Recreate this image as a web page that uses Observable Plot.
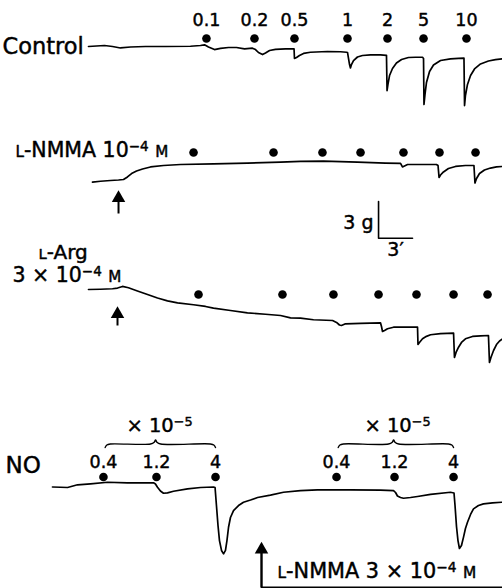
<!DOCTYPE html>
<html><head><meta charset="utf-8">
<script src="https://cdn.jsdelivr.net/npm/d3@7"></script>
<script src="https://cdn.jsdelivr.net/npm/@observablehq/plot@0.6"></script>
<style>body{margin:0;background:#fff}</style>
</head><body><div id="chart"></div>
<script>
// ---------- DATA (time in min, tension change in g) ----------
const controlTrace = [[0,0],[0.71,0.04],[1.41,0.08],[2.12,0],[2.82,-0.12],[3.71,-0.04],[5.03,0],[6.8,0],[9.0,0.02],[9.88,0.08],[10.24,0.14],[10.59,-0.04],[11.12,-0.25],[11.65,-0.16],[12.36,-0.08],[13.06,-0.08],[13.77,-0.19],[14.47,-0.14],[14.74,-0.25],[15.0,-0.49],[15.36,-0.66],[15.62,-0.53],[15.98,-0.33],[16.5,-0.23],[17.39,-0.2],[18.14,-0.19],[18.18,-0.98],[18.36,-0.9],[18.62,-0.74],[18.98,-0.57],[19.59,-0.47],[21.09,-0.41],[22.24,-0.43],[22.77,-0.47],[22.86,-0.49],[23.04,-1.48],[23.12,-1.76],[23.21,-1.48],[23.39,-1.15],[23.74,-0.86],[24.18,-0.74],[24.89,-0.68],[25.77,-0.68],[26.3,-0.72],[26.35,-3.61],[26.43,-3.11],[26.57,-2.38],[26.83,-1.8],[27.18,-1.35],[27.63,-1.07],[28.24,-0.9],[28.86,-0.88],[29.48,-0.88],[29.57,-0.98],[29.61,-4.75],[29.7,-3.93],[29.83,-2.95],[30.1,-2.05],[30.45,-1.52],[31.07,-1.15],[31.95,-1.01],[32.66,-0.97],[33.14,-0.96],[33.19,-4.84],[33.27,-4.02],[33.45,-3.11],[33.72,-2.38],[34.07,-1.84],[34.6,-1.43],[35.3,-1.19],[35.92,-1.07],[36.54,-1.01]];
const nmmaTrace = [[0.35,0],[1.06,0.08],[1.94,0.14],[2.65,0.18],[3.09,0.22],[3.44,0.43],[3.8,0.71],[4.24,0.92],[4.77,1.08],[5.47,1.25],[6.62,1.37],[8.12,1.45],[11.03,1.51],[14.03,1.56],[16.95,1.64],[18.71,1.7],[20.74,1.72],[23.74,1.64],[26.21,1.57],[27.54,1.55],[27.71,1.25],[27.89,1.33],[28.16,1.45],[29.3,1.45],[30.71,1.45],[30.85,1.37],[30.94,0.39],[31.07,0.59],[31.33,0.84],[31.77,1.12],[32.39,1.29],[33.27,1.37],[34.02,1.37],[34.11,-0.07],[34.25,0.3],[34.51,0.71],[34.95,1.0],[35.48,1.16],[36.01,1.25],[36.54,1.29]];
const argTrace = [[0,0],[1.06,0.02],[2.12,0.06],[2.56,0.12],[3.0,0.25],[3.53,0.14],[4.32,-0.12],[5.21,-0.41],[6.09,-0.7],[6.97,-0.93],[7.86,-1.09],[9.27,-1.25],[10.33,-1.39],[11.03,-1.53],[12.53,-1.72],[14.03,-1.91],[15.62,-2.03],[16.95,-2.13],[17.83,-2.32],[18.71,-2.35],[19.86,-2.48],[21.54,-2.54],[21.89,-2.7],[22.15,-2.91],[22.33,-2.95],[22.68,-2.81],[24.01,-2.77],[25.77,-2.73],[25.86,-3.03],[25.95,-3.44],[26.13,-3.36],[26.39,-3.22],[26.92,-3.09],[27.98,-3.09],[29.04,-3.09],[29.08,-4.51],[29.21,-4.34],[29.48,-4.04],[29.83,-3.84],[30.19,-3.71],[31.07,-3.61],[32.22,-3.57],[32.3,-5.57],[32.44,-5.16],[32.66,-4.73],[32.92,-4.34],[33.27,-4.04],[33.89,-3.85],[34.6,-3.8],[35.3,-3.77],[35.39,-5.98],[35.52,-5.57],[35.75,-5.0],[36.01,-4.51],[36.28,-4.22],[36.54,-4.05]];
const noTrace = [[-3.18,0],[-2.47,-0.02],[-1.85,-0.04],[-0.97,0.18],[0.18,0.26],[1.68,0.39],[3.44,0.33],[5.03,0.34],[5.74,0.34],[5.91,0.25],[6.09,-0.02],[6.35,-0.33],[6.62,-0.51],[6.97,-0.48],[7.5,-0.35],[8.74,-0.15],[9.89,-0.04],[11.03,0],[11.17,-0.04],[11.3,-1.6],[11.43,-3.16],[11.56,-4.39],[11.74,-5.2],[11.92,-5.48],[12.09,-5.2],[12.22,-4.39],[12.36,-3.3],[12.53,-2.5],[12.8,-1.93],[13.24,-1.52],[13.68,-1.25],[14.3,-1.07],[14.92,-0.86],[16.06,-0.66],[17.21,-0.43],[18.71,-0.29],[20.21,-0.23],[23.12,-0.23],[25.77,-0.25],[26.92,-0.29],[27.1,-0.45],[27.27,-0.74],[27.54,-0.86],[27.8,-0.92],[28.42,-0.86],[29.04,-0.78],[30.19,-0.61],[31.95,-0.43],[32.26,-0.49],[32.35,-1.52],[32.48,-3.24],[32.61,-4.39],[32.74,-5.04],[32.92,-4.8],[33.1,-4.11],[33.27,-3.4],[33.45,-2.89],[33.72,-2.25],[33.98,-1.79],[34.42,-1.52],[34.86,-1.38],[35.66,-1.3],[36.45,-1.25]];

const controlDoseLabels = ["0.1","0.2","0.5","1","2","5","10"];
const controlDoseTimes  = [10.41,14.65,18.18,22.86,26.39,29.57,33.36];
const nmmaDoseTimes     = [9.27,16.33,20.65,24.01,27.8,30.98,34.16];
const argDoseTimes      = [9.71,17.12,21.62,25.6,28.95,32.22,35.22];
const noDoseLabels      = ["0.4","1.2","4","0.4","1.2","4"];
const noDoseTimes       = [1.32,6.0,11.21,21.89,27.01,32.22];
const noDoseGroups      = [0,0,0,1,1,1];
const nmmaAddTime = 2.65, argAddTime = 2.56, nmmaNoAddTime = 15.27;
const scaleBarTension = 3, scaleBarTime = 3, scaleBarStart = 25.6;

// ---------- LAYOUT ----------
const W = 502, H = 588, PX_PER_MIN = 11.33, PX_PER_G = 12.2, X0 = 88;
const lane = {
  control: {base: 46, dots: 38, labels: 20},
  nmma: {base: 181.7, dots: 152, arrowTip: 190.5, arrowTail: 213},
  arg: {base: 289, dots: 294, arrowTip: 306.5, arrowTail: 325},
  no: {base: 486.5, dots: 476.5, labels: 462, brace: 443.5, braceLabel: 425, arrowTip: 542, bottom: 586.8}
};
const px2t = x => (x - X0) / PX_PER_MIN;
const px2v = y => -y / PX_PER_G;

const traces = [["control", controlTrace], ["nmma", nmmaTrace], ["arg", argTrace], ["no", noTrace]];
const traceRows = traces.flatMap(([k, tr]) => tr.map(([t, g]) => ({panel: k, t, v: g + px2v(lane[k].base)})));

const dotRows = [
  ...controlDoseTimes.map(t => ({t, v: px2v(lane.control.dots)})),
  ...nmmaDoseTimes.map(t => ({t, v: px2v(lane.nmma.dots)})),
  ...argDoseTimes.map(t => ({t, v: px2v(lane.arg.dots)})),
  ...noDoseTimes.map(t => ({t, v: px2v(lane.no.dots)}))
];
const doseLabelRows = [
  ...controlDoseLabels.map((s, i) => ({t: controlDoseTimes[i], v: px2v(lane.control.labels), s})),
  ...noDoseLabels.map((s, i) => ({t: noDoseTimes[i], v: px2v(lane.no.labels), s}))
];

// braces over NO doses
const braceRows = [];
const braceLabelRows = [];
[0, 1].forEach(g => {
  const ts = noDoseTimes.filter((_, i) => noDoseGroups[i] === g);
  const a = ts[0] + 0.15, m = ts[1] - 0.08, b = ts[2];
  const y0 = lane.no.brace;
  const pts = [[a, y0 + 3.5], [a + 0.15, y0 + 1], [a + 0.45, y0], [m - 0.45, y0], [m - 0.12, y0 - 1.8], [m, y0 - 4], [m + 0.12, y0 - 1.8], [m + 0.45, y0], [b - 0.45, y0], [b - 0.15, y0 + 1], [b, y0 + 3.5]];
  pts.forEach(([t, y]) => braceRows.push({g, t, v: px2v(y)}));
  braceLabelRows.push({t: m + 0.35, v: px2v(lane.no.braceLabel), s: "× 10^{−5}"});
});

// arrows
const arrowRows = [
  {t: nmmaAddTime, tip: lane.nmma.arrowTip, tail: lane.nmma.arrowTail},
  {t: argAddTime, tip: lane.arg.arrowTip, tail: lane.arg.arrowTail},
  {t: nmmaNoAddTime, tip: lane.no.arrowTip, tail: lane.no.bottom}
];
const bottomBar = [
  {t: nmmaNoAddTime, v: px2v(lane.no.arrowTip + 8)},
  {t: nmmaNoAddTime, v: px2v(lane.no.bottom)},
  {t: px2t(W), v: px2v(lane.no.bottom)}
];

// scale bar
const sbBottom = px2v(237.7);
const scaleBarRows = [
  {t: scaleBarStart, v: sbBottom + scaleBarTension},
  {t: scaleBarStart, v: sbBottom},
  {t: scaleBarStart + scaleBarTime, v: sbBottom}
];

// text labels
const startLabels = [
  {x: 2, y: 46, s: "Control", size: 22.5},
  {x: 15, y: 150, s: "{L}-NMMA 10^{−4} {M}", size: 20.5},
  {x: 38, y: 252, s: "{L}-Arg", size: 20},
  {x: 12, y: 275, s: "3 × 10^{−4} {M}", size: 20.5},
  {x: 5, y: 465, s: "NO", size: 23},
  {x: 277, y: 571, s: "{L}-NMMA 3 × 10^{−4} {M}", size: 20.8}
].map(d => ({...d, t: px2t(d.x), v: px2v(d.y)}));

const txt = {stroke: "black", strokeWidth: 0.45, fill: "black"};

const chart = Plot.plot({
  width: W, height: H, margin: 0,
  x: {domain: [px2t(0), px2t(W)], range: [0, W], axis: null},
  y: {domain: [px2v(H), 0], range: [H, 0], axis: null},
  style: {fontFamily: "'DejaVu Sans', sans-serif", background: "white", color: "black"},
  marks: [
    Plot.line(traceRows, {x: "t", y: "v", z: "panel", stroke: "black", strokeWidth: 1.7, curve: "linear", strokeLinejoin: "round"}),
    Plot.dot(dotRows, {x: "t", y: "v", r: 4.3, fill: "black"}),
    Plot.text(doseLabelRows, {x: "t", y: "v", text: "s", fontSize: 17.5, ...txt}),
    Plot.line(braceRows, {x: "t", y: "v", z: "g", stroke: "black", strokeWidth: 1.4, curve: "catmull-rom"}),
    Plot.text(braceLabelRows, {x: "t", y: "v", text: "s", fontSize: 19.5, ...txt}),
    Plot.link(arrowRows, {x1: "t", x2: "t", y1: d => px2v(d.tip + 7), y2: d => px2v(d.tail), stroke: "black", strokeWidth: 2}),
    Plot.dot(arrowRows, {x: "t", y: d => px2v(d.tip + 7), symbol: "triangle", r: 5, fill: "black"}),
    Plot.line(bottomBar, {x: "t", y: "v", stroke: "black", strokeWidth: 1.8}),
    Plot.line(scaleBarRows, {x: "t", y: "v", stroke: "black", strokeWidth: 1.6}),
    Plot.text([{t: scaleBarStart, v: px2v(222), s: "3 g"}], {x: "t", y: "v", text: "s", fontSize: 19, textAnchor: "end", dx: -5, ...txt}),
    Plot.text([{t: scaleBarStart + scaleBarTime / 2, v: px2v(249), s: "3′"}], {x: "t", y: "v", text: "s", fontSize: 19, ...txt}),
    Plot.text(startLabels, {x: "t", y: "v", text: "s", fontSize: "size", textAnchor: "start", ...txt})
  ]
});
document.getElementById("chart").appendChild(chart);

// rich text: {X} = small capital, ^{..} = superscript
chart.querySelectorAll("text").forEach(el => {
  const s = el.textContent;
  if (!/[{^]/.test(s)) return;
  const fs = parseFloat(getComputedStyle(el).fontSize);
  el.textContent = "";
  const re = /\{([A-Z])\}|\^\{([^}]*)\}|([^{^]+)/g;
  const raise = 0.32 * fs;
  let m, pending = 0;
  while ((m = re.exec(s))) {
    const ts = document.createElementNS("http://www.w3.org/2000/svg", "tspan");
    if (m[1]) { ts.textContent = m[1]; ts.setAttribute("font-size", fs * 0.74); }
    else if (m[2]) { ts.textContent = m[2]; ts.setAttribute("font-size", fs * 0.66); ts.setAttribute("dy", -raise + pending); pending = raise; el.appendChild(ts); continue; }
    else ts.textContent = m[3];
    if (pending) { ts.setAttribute("dy", pending); pending = 0; }
    el.appendChild(ts);
  }
});
</script></body></html>
